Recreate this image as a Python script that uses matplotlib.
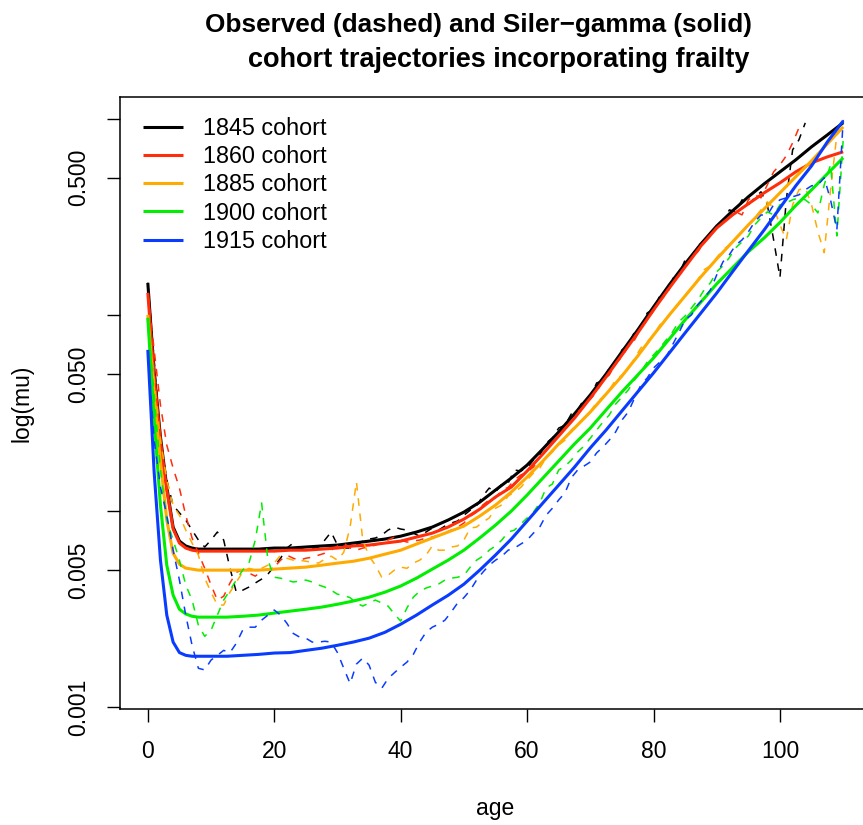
import numpy as np
import matplotlib
matplotlib.use("Agg")
import matplotlib.pyplot as plt

plt.rcParams['font.family'] = ['Liberation Sans', 'DejaVu Sans']

# cohorts shown in the legend
cohorts = ['1845 cohort', '1860 cohort', '1885 cohort', '1900 cohort', '1915 cohort']
colours = ['#000000', '#FF2D0A', '#FFAA00', '#00EE00', '#0A3CFF']

# ages at which the fitted Siler-gamma curves were read
fit_age = [0, 1, 2, 3, 4, 5, 6, 7, 8, 10, 12.5, 15, 17.5, 20, 22.5, 25, 27.5, 30, 32.5,
           35, 37.5, 40, 42.5, 45, 47.5, 50, 52.5, 55, 57.5, 60, 62.5, 65, 67.5, 70,
           72.5, 75, 77.5, 80, 82.5, 85, 87.5, 90, 92.5, 95, 97.5, 100, 102.5, 105,
           107.5, 110]

fit_1845 = [0.1456, 0.0512, 0.02386, 0.01326, 0.00829, 0.00703, 0.00664, 0.00648, 0.0064,
            0.0064, 0.0064, 0.0064, 0.0064, 0.00648, 0.00648, 0.00656, 0.00664, 0.00671,
            0.00687, 0.00703, 0.0072, 0.00745, 0.00782, 0.00829, 0.009, 0.00988, 0.0111,
            0.0128, 0.01474, 0.01716, 0.02075, 0.0253, 0.0313, 0.0391, 0.05, 0.0648, 0.0838,
            0.1098, 0.1424, 0.1822, 0.23, 0.284, 0.339, 0.40, 0.4656, 0.536, 0.617, 0.719,
            0.827, 0.954]
fit_1860 = [0.1295, 0.0483, 0.02276, 0.0128, 0.0081, 0.00687, 0.00648, 0.00632, 0.00625,
            0.00625, 0.00625, 0.00625, 0.00625, 0.00625, 0.00632, 0.00632, 0.0064, 0.00648,
            0.00664, 0.00671, 0.00687, 0.00703, 0.00737, 0.00772, 0.00829, 0.0091, 0.01022,
            0.0118, 0.01326, 0.016, 0.01956, 0.02414, 0.02978, 0.0377, 0.0483, 0.0625, 0.0809,
            0.106, 0.1372, 0.1757, 0.2246, 0.2774, 0.3234, 0.3683, 0.419, 0.471, 0.536, 0.5955,
            0.639, 0.678]
fit_1885 = [0.1, 0.0391, 0.01778, 0.009, 0.0061, 0.00536, 0.00512, 0.00506, 0.005,
            0.005, 0.005, 0.005, 0.005, 0.00506, 0.00512, 0.00518, 0.0053, 0.00543,
            0.00555, 0.00575, 0.00603, 0.00632, 0.00679, 0.00729, 0.00782, 0.00839, 0.00943,
            0.01073, 0.0125, 0.0149, 0.018, 0.022, 0.0265, 0.032, 0.0395, 0.0488, 0.0617,
            0.079, 0.1, 0.125, 0.1565, 0.193, 0.2355, 0.2876, 0.347, 0.419, 0.506, 0.61,
            0.744, 0.909]
fit_1900 = [0.0966, 0.0291, 0.0107, 0.0053, 0.00373, 0.00316, 0.00299, 0.00291, 0.00288,
            0.00288, 0.00288, 0.00291, 0.00295, 0.00302, 0.00309, 0.00316, 0.00324, 0.00335,
            0.00348, 0.00364, 0.00386, 0.00415, 0.00455, 0.00506, 0.00562, 0.00632, 0.00729,
            0.00848, 0.01, 0.01207, 0.01474, 0.018, 0.022, 0.0265, 0.0328, 0.0405, 0.0494,
            0.0603, 0.0754, 0.0943, 0.1163, 0.144, 0.174, 0.21, 0.2467, 0.296, 0.361, 0.434,
            0.524, 0.632]
fit_1915 = [0.0663, 0.0158, 0.00562, 0.00295, 0.00215, 0.0019, 0.00184, 0.00182, 0.00182,
            0.00182, 0.00182, 0.00184, 0.00186, 0.00189, 0.0019, 0.00195, 0.002, 0.00207,
            0.00215, 0.00225, 0.00241, 0.00265, 0.00295, 0.00332, 0.00372, 0.00424, 0.005,
            0.00597, 0.0072, 0.00889, 0.011, 0.01357, 0.01676, 0.021, 0.0259, 0.0324, 0.0405,
            0.0506, 0.064, 0.081, 0.1023, 0.1293, 0.166, 0.2125, 0.271, 0.351, 0.455, 0.575,
            0.762, 0.974]

# observed death rates, one value per single year of age from 0
obs_1845 = [0.146, 0.0589, 0.023, 0.0144, 0.0107, 0.0098, 0.009, 0.008, 0.00712, 0.00656,
            0.00712, 0.00782, 0.00712, 0.00511, 0.00386, 0.00395, 0.0041, 0.0043, 0.0045, 0.00477,
            0.00524, 0.00575, 0.00648, 0.00687, 0.00648, 0.00632, 0.0064, 0.00656, 0.00712, 0.00782,
            0.00671, 0.00648, 0.00648, 0.00671, 0.00703, 0.0072, 0.00729, 0.00754, 0.008, 0.00829,
            0.0081, 0.008, 0.00772, 0.00745, 0.00782, 0.00819, 0.008, 0.00839, 0.00869, 0.0089,
            0.00952, 0.0101, 0.01062, 0.01193, 0.0131, 0.0125, 0.01374, 0.0139, 0.0162, 0.016,
            0.01657, 0.0182, 0.0193, 0.0222, 0.0236, 0.0265, 0.0274, 0.0313, 0.0328, 0.0372,
            0.0381, 0.045, 0.0461, 0.0536, 0.0562, 0.0663, 0.0703, 0.0819, 0.0869, 0.1023,
            0.107, 0.125, 0.131, 0.153, 0.16, 0.191, 0.196, 0.227, 0.233, 0.262,
            0.284, 0.298, 0.343, 0.335, 0.386, 0.364, 0.395, 0.424, 0.364, 0.241,
            0.155, 0.386, 0.694, 0.78, 0.952]
obs_1860 = [0.1295, 0.0663, 0.0347, 0.0217, 0.01657, 0.0131, 0.00952, 0.00729, 0.0061, 0.00511,
            0.0042, 0.00352, 0.00368, 0.0043, 0.00488, 0.005, 0.00483, 0.00466, 0.00494, 0.00506,
            0.00518, 0.00562, 0.00596, 0.00575, 0.00562, 0.00575, 0.00582, 0.00596, 0.0061, 0.00632,
            0.00664, 0.00687, 0.00648, 0.00632, 0.00648, 0.00656, 0.00671, 0.00687, 0.00712, 0.00737,
            0.00712, 0.00695, 0.00703, 0.00712, 0.00729, 0.00737, 0.00754, 0.00772, 0.008, 0.00829,
            0.00869, 0.00941, 0.00987, 0.01075, 0.0114, 0.01165, 0.0128, 0.0132, 0.0144, 0.01528,
            0.01583, 0.01676, 0.01866, 0.0205, 0.02247, 0.02414, 0.02648, 0.02843, 0.032, 0.0343,
            0.0372, 0.0404, 0.0466, 0.0494, 0.0568, 0.061, 0.0694, 0.0745, 0.0858, 0.0943,
            0.1048, 0.119, 0.1264, 0.1457, 0.1584, 0.1738, 0.196, 0.21, 0.233, 0.2526,
            0.2774, 0.298, 0.3122, 0.335, 0.3234, 0.386, 0.409, 0.395, 0.46, 0.536,
            0.582, 0.647, 0.753, 0.898]
obs_1885 = [0.1, 0.0466, 0.023, 0.0144, 0.0107, 0.00952, 0.008, 0.00687, 0.00596, 0.00455,
            0.00386, 0.00332, 0.00332, 0.00386, 0.00435, 0.00488, 0.00511, 0.005, 0.00511, 0.0053,
            0.00543, 0.00596, 0.00575, 0.00562, 0.00562, 0.00555, 0.00549, 0.00543, 0.00569, 0.00589,
            0.00562, 0.00617, 0.00829, 0.0141, 0.00712, 0.00589, 0.0053, 0.0046, 0.00471, 0.005,
            0.00518, 0.00511, 0.00543, 0.00562, 0.00596, 0.00664, 0.00632, 0.00632, 0.00656, 0.00664,
            0.00712, 0.00819, 0.00829, 0.00879, 0.00922, 0.01034, 0.01075, 0.01193, 0.0125, 0.0132,
            0.0144, 0.01563, 0.01657, 0.01866, 0.02, 0.0217, 0.023, 0.0259, 0.02776, 0.02978,
            0.032, 0.0359, 0.0381, 0.0414, 0.0466, 0.0494, 0.0524, 0.0603, 0.0679, 0.0728,
            0.079, 0.0889, 0.0943, 0.106, 0.1149, 0.1264, 0.1372, 0.151, 0.17, 0.178,
            0.196, 0.215, 0.227, 0.2467, 0.2648, 0.2876, 0.3122, 0.343, 0.377, 0.351,
            0.2876, 0.241, 0.364, 0.434, 0.444, 0.364, 0.265, 0.2075, 0.434, 0.827,
            0.909]
obs_1900 = [0.0966, 0.039, 0.0162, 0.009, 0.00712, 0.00562, 0.0042, 0.00352, 0.00262, 0.0023,
            0.00247, 0.00295, 0.00352, 0.00395, 0.00445, 0.005, 0.00543, 0.00712, 0.011, 0.00562,
            0.0046, 0.00455, 0.00445, 0.00435, 0.0044, 0.00445, 0.00435, 0.0042, 0.0041, 0.00395,
            0.00377, 0.00372, 0.00362, 0.0034, 0.00328, 0.0034, 0.00352, 0.0034, 0.00328, 0.00299,
            0.00275, 0.00321, 0.00364, 0.0039, 0.00405, 0.00415, 0.00425, 0.00445, 0.00455, 0.0046,
            0.00471, 0.00518, 0.00562, 0.00589, 0.00632, 0.00664, 0.00712, 0.00782, 0.008, 0.00859,
            0.00922, 0.00987, 0.011, 0.0131, 0.01374, 0.0162, 0.01696, 0.0182, 0.02, 0.02144,
            0.02354, 0.0259, 0.02843, 0.0309, 0.0351, 0.0381, 0.0414, 0.0466, 0.0512, 0.0575,
            0.0625, 0.0679, 0.0745, 0.0819, 0.0921, 0.0988, 0.1085, 0.119, 0.134, 0.1457,
            0.166, 0.178, 0.196, 0.22, 0.2355, 0.2526, 0.2876, 0.3122, 0.335, 0.3234,
            0.364, 0.373, 0.386, 0.395, 0.386, 0.364, 0.331, 0.46, 0.582, 0.2526,
            0.78]
obs_1915 = [0.0663, 0.023, 0.01326, 0.00952, 0.00632, 0.00445, 0.00295, 0.00207, 0.00158, 0.00155,
            0.00174, 0.00184, 0.00195, 0.0019, 0.00212, 0.00247, 0.00256, 0.00256, 0.00278, 0.00295,
            0.00313, 0.00295, 0.00268, 0.00238, 0.00228, 0.00225, 0.00215, 0.00215, 0.00217, 0.00215,
            0.0019, 0.00158, 0.00132, 0.00166, 0.00178, 0.00164, 0.00134, 0.00125, 0.0014, 0.0015,
            0.0016, 0.0017, 0.00186, 0.00215, 0.00241, 0.00256, 0.00265, 0.00278, 0.00306, 0.0034,
            0.00362, 0.00395, 0.00445, 0.00488, 0.0053, 0.00562, 0.00589, 0.00632, 0.00648, 0.00679,
            0.00712, 0.00772, 0.00829, 0.00952, 0.01034, 0.0114, 0.0124, 0.0148, 0.0162, 0.01696,
            0.0178, 0.0198, 0.0212, 0.023, 0.0253, 0.0291, 0.032, 0.0377, 0.0439, 0.0477,
            0.0536, 0.0575, 0.061, 0.0703, 0.081, 0.0943, 0.1, 0.1125, 0.122, 0.134,
            0.16, 0.1867, 0.2027, 0.227, 0.241, 0.265, 0.298, 0.323, 0.323, 0.364,
            0.386, 0.395, 0.4, 0.409, 0.434, 0.455, 0.46, 0.5, 0.386, 0.271,
            0.986]

observed = [obs_1845, obs_1860, obs_1885, obs_1900, obs_1915]
fitted = [fit_1845, fit_1860, fit_1885, fit_1900, fit_1915]

fig = plt.figure(figsize=(8.63, 8.25), dpi=100)
ax = fig.add_axes([120 / 863, 116 / 825, 751 / 863, 612 / 825])

for obs, fit, col, lab in zip(observed, fitted, colours, cohorts):
    ax.plot(np.arange(len(obs)), obs, color=col, lw=1.1, dashes=(5, 5))
    ax.plot(fit_age, fit, color=col, lw=2.2, label=lab, solid_capstyle='butt')

ax.set_yscale('log')
ax.set_xlim(-4.4, 114.4)
ax.set_ylim(0.00098, 1.29)

yt = [0.001, 0.005, 0.01, 0.05, 0.1, 0.5, 1]
ax.set_yticks(yt)
ax.set_yticklabels(['0.001', '0.005', '', '0.050', '', '0.500', ''])
ax.yaxis.set_minor_locator(matplotlib.ticker.NullLocator())
ax.set_xticks([0, 20, 40, 60, 80, 100])
for lbl in ax.get_yticklabels():
    lbl.set_rotation(90)
    lbl.set_va('center')

ax.tick_params(axis='both', length=9.5, width=1.0, labelsize=16.5, color='black')
ax.tick_params(axis='x', pad=13)
ax.tick_params(axis='y', pad=12)
for sp in ax.spines.values():
    sp.set_linewidth(1.1)

ax.set_xlabel('age', fontsize=16.5, labelpad=24)
ax.set_ylabel('log(mu)', fontsize=16.5, labelpad=24)

ax.legend(loc='upper left', bbox_to_anchor=(0.03, 0.967), frameon=False,
          fontsize=16.8, handlelength=1.75, handletextpad=0.85,
          labelspacing=0.22, borderpad=0, borderaxespad=0)

fig.text(478 / 863, 1 - 25 / 825, 'Observed (dashed) and Siler\u2212gamma (solid)',
         ha='center', va='center', fontsize=18.8, fontweight='bold')
fig.text(499 / 863, 1 - 60 / 825, 'cohort trajectories incorporating frailty',
         ha='center', va='center', fontsize=19.5, fontweight='bold')

fig.savefig('out.png', dpi=100)
